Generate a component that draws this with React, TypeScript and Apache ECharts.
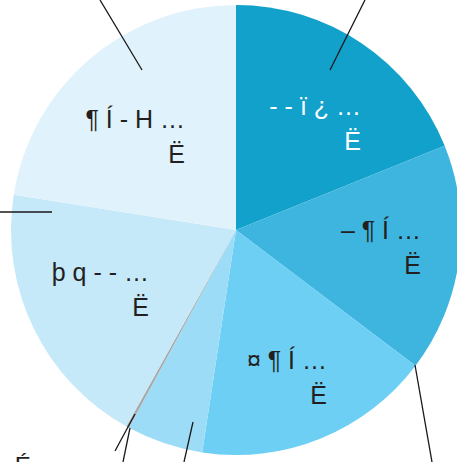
import React, { useEffect, useRef } from "react";
import * as echarts from "echarts";

// Slice names (two-line labels as shown in the picture) and shares in percent
const categories = [
  "- - ï ¿ …\nË",
  "– ¶ Í …\nË",
  "¤ ¶ Í …\nË",
  "É …",
  "É ¶",
  "þ q - - …\nË",
  "¶ Í - H …\nË",
];
const values = [18.9, 16.4, 17.1, 5.5, 0.2, 19.4, 22.5];
const colors = ["#11a1cb", "#3db5df", "#6dcff4", "#9ddcf6", "#a8a8a8", "#c5e9f9", "#e0f2fb"];
const showInside = [true, true, true, false, false, true, true];
const labelColors = ["#ffffff", "#231f20", "#231f20", "#231f20", "#231f20", "#231f20", "#231f20"];

// label anchor (right edge x, middle y) in pixels
const labelAnchors: [number, number][] = [
  [361, 123],
  [421, 247],
  [327, 377],
  [0, 0],
  [0, 0],
  [149, 289],
  [185, 136],
];

// leader lines running out of the picture (outer labels are cropped)
const leaderLines: [number, number, number, number][] = [
  [330, 70, 365, 0],
  [142, 70, 100, 0],
  [0, 212, 52, 212],
  [415, 365, 432, 462],
  [193, 422, 184, 462],
  [135, 414, 115, 451],
  [130, 428, 123, 462],
];

export default function App() {
  const ref = useRef<HTMLDivElement>(null);
  useEffect(() => {
    if (!ref.current) return;
    const chart = echarts.init(ref.current, null, { renderer: "svg" });
    const data = categories.map((name, i) => ({
      name,
      value: values[i],
      itemStyle: { color: colors[i] },
      label: { show: showInside[i], color: labelColors[i] },
    }));
    chart.setOption({
      animation: false,
      backgroundColor: "#ffffff",
      series: [
        {
          type: "pie",
          center: [236, 230],
          radius: [0, 225],
          startAngle: 90,
          clockwise: true,
          avoidLabelOverlap: false,
          minAngle: 0,
          data,
          itemStyle: { borderWidth: 0 },
          label: {
            position: "inside",
            formatter: "{b}",
            fontFamily: "Liberation Sans, Arial, sans-serif",
            fontSize: 25,
            lineHeight: 35,
            align: "right",
          },
          labelLine: { show: false },
          labelLayout: (p: any) => {
            const a = labelAnchors[p.dataIndex];
            return { x: a[0], y: a[1], align: "right", verticalAlign: "middle" };
          },
        },
      ],
      graphic: [
        ...leaderLines.map((l) => ({
          type: "line",
          shape: { x1: l[0], y1: l[1], x2: l[2], y2: l[3] },
          style: { stroke: "#1a1718", lineWidth: 1.3 },
          z: 10,
        })),
        {
          type: "text",
          x: 0,
          y: 453,
          style: {
            text: "- É",
            fontFamily: "Liberation Sans, Arial, sans-serif",
            fontSize: 24,
            fill: "#231f20",
          },
        },
      ],
    });
    return () => chart.dispose();
  }, []);
  return (
    <div
      ref={ref}
      style={{ position: "fixed", left: 0, top: 0, width: 457, height: 462 }}
    />
  );
}
